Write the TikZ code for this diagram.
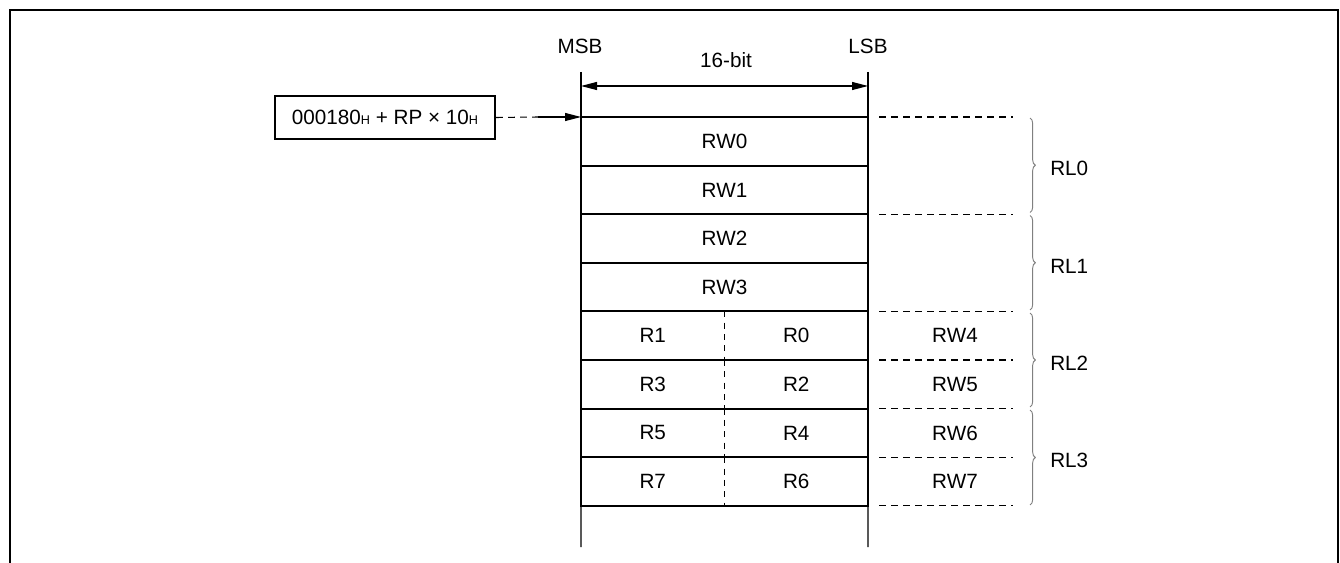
\documentclass[tikz,border=0pt]{standalone}
\usepackage{fontspec}
\setmainfont{Liberation Sans}
\usetikzlibrary{arrows.meta,decorations.pathreplacing}
\newcommand{\hsub}{{\fontsize{9.5}{10}\selectfont H}}
\begin{document}
\begin{tikzpicture}[x=0.75pt,y=-0.75pt,
  font=\fontsize{15.5}{18}\selectfont,
  frameline/.style={line width=2.2pt},
  regrow/.style={draw, line width=1.6pt, minimum width=215.25pt, minimum height=36.45pt, inner sep=0pt, outer sep=0pt},
  halfcell/.style={minimum width=107.6pt, minimum height=36.45pt, inner sep=0pt, outer sep=0pt},
  pairbox/.style={line width=1.6pt},
  guide/.style={line width=0.8pt},
  dashline/.style={line width=0.8pt, dash pattern=on 5pt off 4pt},
  divline/.style={line width=0.8pt, dash pattern=on 4.5pt off 4pt},
  lbl/.style={inner sep=0pt},
  tip/.style={-{Triangle[length=12pt,width=6pt]}},
  rlbrace/.style={draw=gray, line width=0.7pt, decorate, decoration={brace, amplitude=4pt}}
]
\useasboundingbox (0,0) rectangle (1340,563);
% outer frame (open at bottom)
\draw[frameline] (10,563) -- (10,10) -- (1338,10) -- (1338,563);

% address box
\node[draw, line width=1.7pt, minimum width=165pt, minimum height=32pt, inner sep=0pt] (addr) at (385,117.5)
  {000180\hsub\ + RP × 10\hsub};

% register rows
\node[regrow] (rw0) at (724.5,141.3) {RW0};
\node[regrow] (rw1) at (724.5,189.9) {RW1};
\node[regrow] (rw2) at (724.5,238.5) {RW2};
\node[regrow] (rw3) at (724.5,287.1) {RW3};

\node[halfcell] (r1) at (652.75,335.7) {R1};
\node[halfcell] (r0) at (796.25,335.7) {R0};
\node[halfcell] (r3) at (652.75,384.3) {R3};
\node[halfcell] (r2) at (796.25,384.3) {R2};
\node[halfcell] (r5) at (652.75,432.9) {R5};
\node[halfcell] (r4) at (796.25,432.9) {R4};
\node[halfcell] (r7) at (652.75,481.5) {R7};
\node[halfcell] (r6) at (796.25,481.5) {R6};
\foreach \a/\b in {r1/r0,r3/r2,r5/r4,r7/r6}{
  \draw[divline] (\a.north east) -- (\a.south east);
  \draw[pairbox] (\a.north west) rectangle (\b.south east);
}

% guides above and below the stack
\coordinate (gl1) at (581,72);
\coordinate (gl2) at (581,547);
\coordinate (gr1) at (868,72);
\coordinate (gr2) at (868,547);
\draw[guide] (gl1) -- (rw0.north west);
\draw[guide] (r7.south west) -- (gl2);
\draw[guide] (gr1) -- (rw0.north east);
\draw[guide] (r6.south east) -- (gr2);

% header labels
\node[lbl] (msb) at (580,46) {MSB};
\node[lbl] (lsb) at (868,46) {LSB};
\node[lbl] (bits) at (726,60) {16-bit};
\coordinate (bl) at (581,86);
\coordinate (br) at (868,86);
\draw[guide, {Triangle[length=12pt,width=6pt]}-{Triangle[length=12pt,width=6pt]}] (bl) -- (br);

% address pointer
\coordinate (ap) at (538,117);
\draw[dashline] (addr.east) -- (ap);
\draw[guide, tip] (ap) -- (rw0.north west);

% right-hand dashed boundaries
\foreach \y [count=\i] in {117,214.2,311.4,360,408.6,457.2,505.8}{
  \coordinate (dl\i) at (879,\y);
  \coordinate (dr\i) at (1013,\y);
  \draw[dashline] (dl\i) -- (dr\i);
}
\node[lbl] (rw4) at (955,335.7) {RW4};
\node[lbl] (rw5) at (955,384.3) {RW5};
\node[lbl] (rw6) at (955,432.9) {RW6};
\node[lbl] (rw7) at (955,481.5) {RW7};

% braces
\coordinate (b1) at (1030,118);
\coordinate (b2) at (1030,212.5);
\coordinate (b3) at (1030,215.5);
\coordinate (b4) at (1030,310);
\coordinate (b5) at (1030,313);
\coordinate (b6) at (1030,407);
\coordinate (b7) at (1030,410);
\coordinate (b8) at (1030,505);
\draw[rlbrace] (b1) -- (b2);
\draw[rlbrace] (b3) -- (b4);
\draw[rlbrace] (b5) -- (b6);
\draw[rlbrace] (b7) -- (b8);
\node[lbl, anchor=west] (rl0) at (1050,168) {RL0};
\node[lbl, anchor=west] (rl1) at (1050,266) {RL1};
\node[lbl, anchor=west] (rl2) at (1050,363) {RL2};
\node[lbl, anchor=west] (rl3) at (1050,460) {RL3};
\end{tikzpicture}
\end{document}
